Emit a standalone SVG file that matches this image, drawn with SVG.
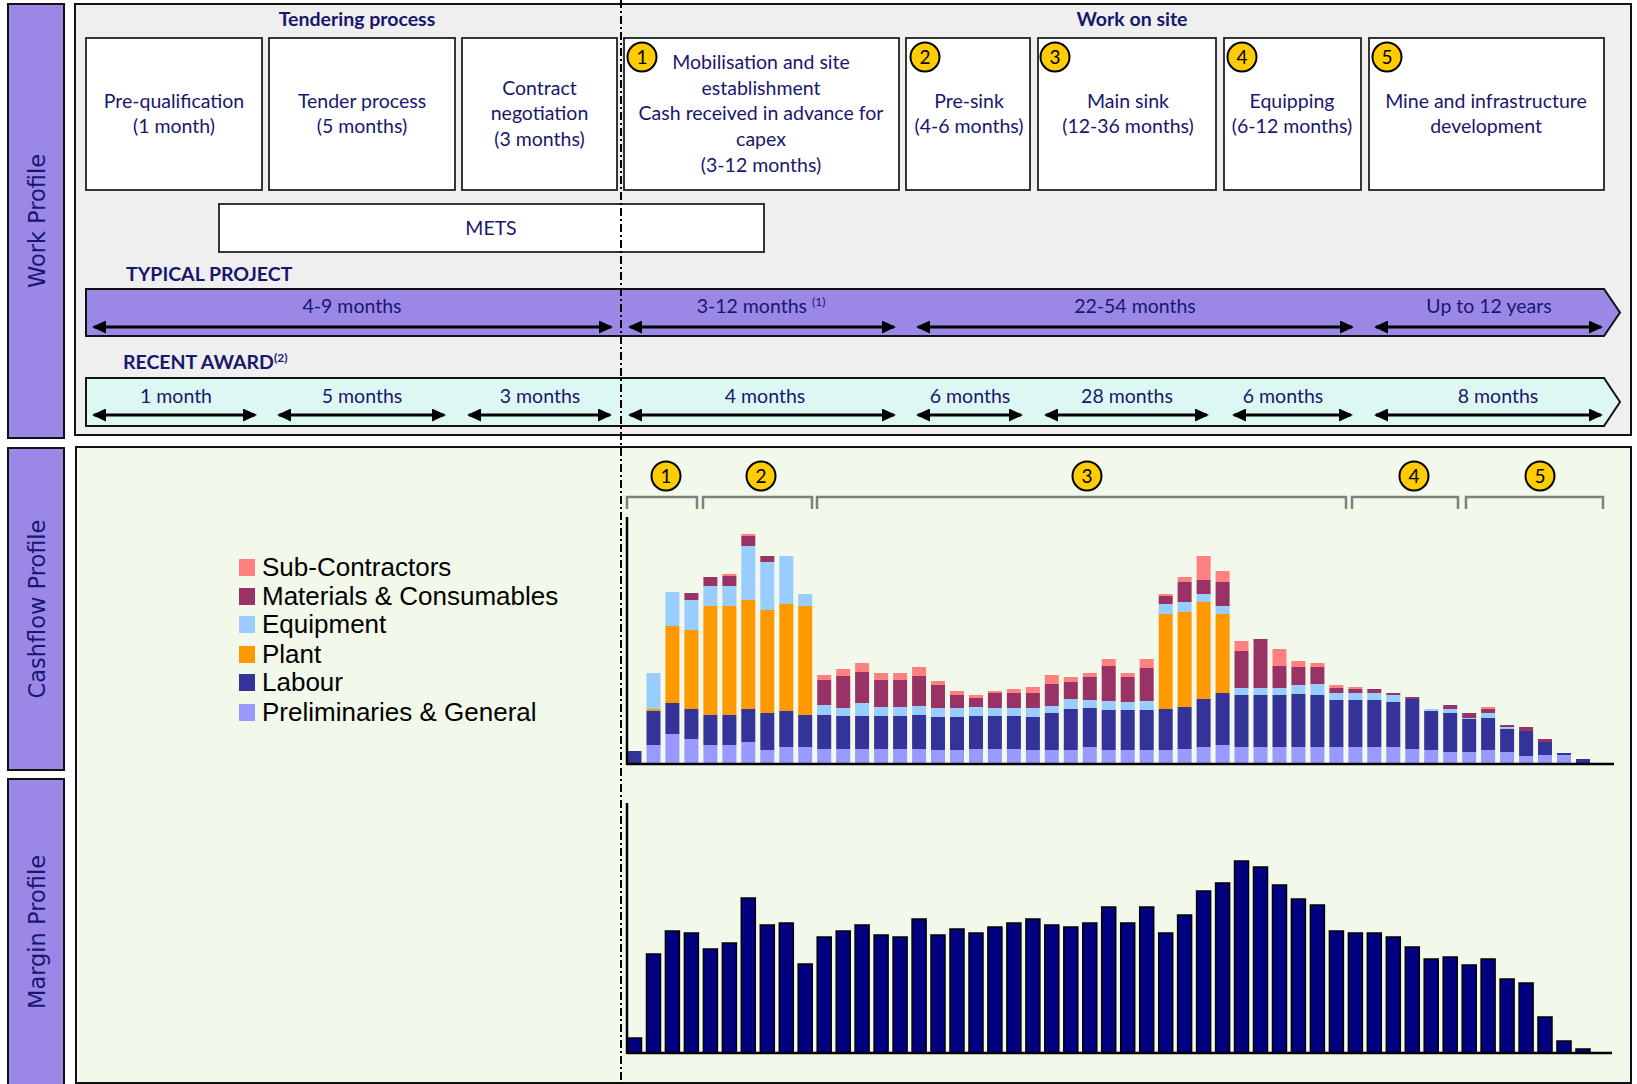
<svg xmlns="http://www.w3.org/2000/svg" width="1637" height="1084" viewBox="0 0 1637 1084">
<style>
.t{font-family:Lato,"Liberation Sans",sans-serif;font-size:19.5px;fill:#17176e;text-anchor:middle}
.bd{font-weight:bold}
.box{fill:#fff;stroke:#222;stroke-width:1.8}
.vl{fill:#9b87e6;stroke:#111;stroke-width:2}
.vt{font-family:"DejaVu Sans",sans-serif;font-size:22.5px;fill:#17176e;text-anchor:middle;dominant-baseline:central}
.nc{fill:#ffcc00;stroke:#000;stroke-width:2}
.nt{font-family:Lato,"Liberation Sans",sans-serif;font-size:19px;fill:#000;text-anchor:middle}
.arr{stroke:#000;stroke-width:3;marker-start:url(#ah);marker-end:url(#ah)}
.br{fill:none;stroke:#808080;stroke-width:2.5}
.lg{font-family:"Liberation Sans",Arial,sans-serif;font-size:26px;fill:#000}
.p{fill:#9999ff}.l{fill:#333399}.pl{fill:#ff9900}.e{fill:#99ccff}.m{fill:#993366}.s{fill:#ff8080}
.mg{fill:#000080;stroke:#000;stroke-width:1.5}
.ax{stroke:#000;stroke-width:2.5}
</style>
<defs>
<marker id="ah" viewBox="0 0 14 13" markerWidth="14" markerHeight="13" refX="12" refY="6.5" orient="auto-start-reverse" markerUnits="userSpaceOnUse"><path d="M0,0 L14,6.5 L0,13 z" fill="#000"/></marker>
</defs>
<rect x="0" y="0" width="1637" height="1084" fill="#fff"/>

<!-- panels -->
<g id="panel-work"><rect x="75" y="4" width="1556" height="431" fill="#efefef" stroke="#111" stroke-width="2"/></g>
<g id="panel-charts"><rect x="76" y="447" width="1555" height="636" fill="#f2f8ea" stroke="#111" stroke-width="2"/></g>

<!-- side labels -->
<g id="label-work"><rect class="vl" x="8" y="4" width="56" height="434"/><text class="vt" transform="translate(37,221) rotate(-90)">Work Profile</text></g>
<g id="label-cashflow"><rect class="vl" x="8" y="448" width="56" height="322"/><text class="vt" transform="translate(37,609) rotate(-90)">Cashflow Profile</text></g>
<g id="label-margin"><rect class="vl" x="8" y="779" width="56" height="312"/><text class="vt" transform="translate(37,932) rotate(-90)">Margin Profile</text></g>

<!-- headings -->
<g id="heading-tendering"><text class="t bd" x="357" y="26">Tendering process</text></g>
<g id="heading-site"><text class="t bd" x="1132" y="26">Work on site</text></g>

<!-- stage boxes -->
<g id="box-prequal"><rect class="box" x="86" y="38" width="176" height="152"/><text class="t" x="174" y="107.5">Pre-qualification</text><text class="t" x="174" y="133.3">(1 month)</text></g>
<g id="box-tender"><rect class="box" x="269" y="38" width="186" height="152"/><text class="t" x="362" y="107.5">Tender process</text><text class="t" x="362" y="133.3">(5 months)</text></g>
<g id="box-contract"><rect class="box" x="462" y="38" width="155" height="152"/><text class="t" x="539.5" y="94.6">Contract</text><text class="t" x="539.5" y="120.4">negotiation</text><text class="t" x="539.5" y="146.2">(3 months)</text></g>
<g id="box-mobilisation"><rect class="box" x="624" y="38" width="275" height="152"/>
<circle class="nc" cx="642" cy="57" r="14.5"/><text class="nt" x="642" y="63.5">1</text>
<text class="t" x="761" y="68.8">Mobilisation and site</text><text class="t" x="761" y="94.6">establishment</text><text class="t" x="761" y="120.4">Cash received in advance for</text><text class="t" x="761" y="146.2">capex</text><text class="t" x="761" y="172">(3-12 months)</text></g>
<g id="box-presink"><rect class="box" x="906" y="38" width="124" height="152"/>
<circle class="nc" cx="925" cy="57" r="14.5"/><text class="nt" x="925" y="63.5">2</text>
<text class="t" x="969" y="107.5">Pre-sink</text><text class="t" x="969" y="133.3">(4-6 months)</text></g>
<g id="box-mainsink"><rect class="box" x="1038" y="38" width="178" height="152"/>
<circle class="nc" cx="1055" cy="57" r="14.5"/><text class="nt" x="1055" y="63.5">3</text>
<text class="t" x="1128" y="107.5">Main sink</text><text class="t" x="1128" y="133.3">(12-36 months)</text></g>
<g id="box-equipping"><rect class="box" x="1224" y="38" width="137" height="152"/>
<circle class="nc" cx="1242" cy="57" r="14.5"/><text class="nt" x="1242" y="63.5">4</text>
<text class="t" x="1292" y="107.5">Equipping</text><text class="t" x="1292" y="133.3">(6-12 months)</text></g>
<g id="box-development"><rect class="box" x="1369" y="38" width="235" height="152"/>
<circle class="nc" cx="1387" cy="57" r="14.5"/><text class="nt" x="1387" y="63.5">5</text>
<text class="t" x="1486" y="107.5">Mine and infrastructure</text><text class="t" x="1486" y="133.3">development</text></g>

<g id="box-mets"><rect class="box" x="219" y="204" width="545" height="48"/><text class="t" x="491" y="234.5">METS</text></g>

<!-- typical project band -->
<g id="band-typical">
<text class="t bd" x="126" y="281" style="text-anchor:start">TYPICAL PROJECT</text>
<polygon points="86,289 1604,289 1620,312.5 1604,336 86,336" fill="#9b87e6" stroke="#111" stroke-width="2"/>
<text class="t" x="352" y="313">4-9 months</text>
<text class="t" x="761" y="313">3-12 months <tspan font-size="12" dy="-7">(1)</tspan></text>
<text class="t" x="1135" y="313">22-54 months</text>
<text class="t" x="1489" y="313">Up to 12 years</text>
</g>

<!-- recent award band -->
<g id="band-recent">
<text class="t bd" x="123" y="369" style="text-anchor:start">RECENT AWARD<tspan font-size="12" dy="-7">(2)</tspan></text>
<polygon points="86,378 1604,378 1620,402 1604,426 86,426" fill="#ddf7f2" stroke="#111" stroke-width="2"/>
<text class="t" x="176" y="403">1 month</text>
<text class="t" x="362" y="403">5 months</text>
<text class="t" x="540" y="403">3 months</text>
<text class="t" x="765" y="403">4 months</text>
<text class="t" x="970" y="403">6 months</text>
<text class="t" x="1127" y="403">28 months</text>
<text class="t" x="1283" y="403">6 months</text>
<text class="t" x="1498" y="403">8 months</text>
</g>

<g id="connectors">
<line class="arr" x1="94" y1="327" x2="611" y2="327"/>
<line class="arr" x1="630" y1="327" x2="894" y2="327"/>
<line class="arr" x1="918" y1="327" x2="1352" y2="327"/>
<line class="arr" x1="1376" y1="327" x2="1601" y2="327"/>
<line class="arr" x1="94" y1="415" x2="255" y2="415"/>
<line class="arr" x1="279" y1="415" x2="444" y2="415"/>
<line class="arr" x1="469" y1="415" x2="610" y2="415"/>
<line class="arr" x1="630" y1="415" x2="894" y2="415"/>
<line class="arr" x1="918" y1="415" x2="1021" y2="415"/>
<line class="arr" x1="1046" y1="415" x2="1207" y2="415"/>
<line class="arr" x1="1234" y1="415" x2="1351" y2="415"/>
<line class="arr" x1="1376" y1="415" x2="1601" y2="415"/>
</g>

<!-- legend -->
<g id="legend">
<rect class="s" x="239" y="559" width="16" height="17"/><text class="lg" x="262" y="576">Sub-Contractors</text>
<rect class="m" x="239" y="588" width="16" height="17"/><text class="lg" x="262" y="605">Materials &amp; Consumables</text>
<rect class="e" x="239" y="616" width="16" height="17"/><text class="lg" x="262" y="633">Equipment</text>
<rect class="pl" x="239" y="646" width="16" height="17"/><text class="lg" x="262" y="663">Plant</text>
<rect class="l" x="239" y="674" width="16" height="17"/><text class="lg" x="262" y="691">Labour</text>
<rect class="p" x="239" y="704" width="16" height="17"/><text class="lg" x="262" y="721">Preliminaries &amp; General</text>
</g>

<!-- phase brackets -->
<g id="phase-brackets">
<path class="br" d="M627,509 V497 H697 V509"/>
<path class="br" d="M703,509 V497 H812 V509"/>
<path class="br" d="M817,509 V497 H1346 V509"/>
<path class="br" d="M1352,509 V497 H1458 V509"/>
<path class="br" d="M1466,509 V497 H1603 V509"/>
<circle class="nc" cx="666" cy="476" r="14.5"/><text class="nt" x="666" y="482.5">1</text>
<circle class="nc" cx="761" cy="476" r="14.5"/><text class="nt" x="761" y="482.5">2</text>
<circle class="nc" cx="1087" cy="476" r="14.5"/><text class="nt" x="1087" y="482.5">3</text>
<circle class="nc" cx="1414" cy="476" r="14.5"/><text class="nt" x="1414" y="482.5">4</text>
<circle class="nc" cx="1540" cy="476" r="14.5"/><text class="nt" x="1540" y="482.5">5</text>
</g>

<!-- cashflow chart -->
<g id="cashflow-chart">
<g transform="translate(627.5,0)"><rect class="l" y="751" width="14" height="12"/></g>
<g transform="translate(646.5,0)"><rect class="p" y="745" width="14" height="18"/><rect class="l" y="711" width="14" height="34"/><rect class="pl" y="709" width="14" height="2"/><rect class="e" y="673" width="14" height="36"/></g>
<g transform="translate(665.4,0)"><rect class="p" y="734" width="14" height="29"/><rect class="l" y="703" width="14" height="31"/><rect class="pl" y="626" width="14" height="77"/><rect class="e" y="592" width="14" height="34"/></g>
<g transform="translate(684.4,0)"><rect class="p" y="739" width="14" height="24"/><rect class="l" y="709" width="14" height="30"/><rect class="pl" y="630" width="14" height="79"/><rect class="e" y="600" width="14" height="30"/><rect class="m" y="593" width="14" height="7"/></g>
<g transform="translate(703.4,0)"><rect class="p" y="745" width="14" height="18"/><rect class="l" y="715" width="14" height="30"/><rect class="pl" y="606" width="14" height="109"/><rect class="e" y="586" width="14" height="20"/><rect class="m" y="577" width="14" height="9"/></g>
<g transform="translate(722.4,0)"><rect class="p" y="745" width="14" height="18"/><rect class="l" y="715" width="14" height="30"/><rect class="pl" y="606" width="14" height="109"/><rect class="e" y="586" width="14" height="20"/><rect class="m" y="576" width="14" height="10"/><rect class="s" y="574" width="14" height="2"/></g>
<g transform="translate(741.3,0)"><rect class="p" y="742" width="14" height="21"/><rect class="l" y="709" width="14" height="33"/><rect class="pl" y="600" width="14" height="109"/><rect class="e" y="546" width="14" height="54"/><rect class="m" y="536" width="14" height="10"/><rect class="s" y="534" width="14" height="2"/></g>
<g transform="translate(760.3,0)"><rect class="p" y="750" width="14" height="13"/><rect class="l" y="713" width="14" height="37"/><rect class="pl" y="610" width="14" height="103"/><rect class="e" y="562" width="14" height="48"/><rect class="m" y="556" width="14" height="6"/></g>
<g transform="translate(779.3,0)"><rect class="p" y="747" width="14" height="16"/><rect class="l" y="711" width="14" height="36"/><rect class="pl" y="604" width="14" height="107"/><rect class="e" y="556" width="14" height="48"/></g>
<g transform="translate(798.2,0)"><rect class="p" y="747" width="14" height="16"/><rect class="l" y="715" width="14" height="32"/><rect class="pl" y="606" width="14" height="109"/><rect class="e" y="594" width="14" height="12"/></g>
<g transform="translate(817.2,0)"><rect class="p" y="749" width="14" height="14"/><rect class="l" y="715" width="14" height="34"/><rect class="e" y="705" width="14" height="10"/><rect class="m" y="680" width="14" height="25"/><rect class="s" y="675" width="14" height="5"/></g>
<g transform="translate(836.2,0)"><rect class="p" y="749" width="14" height="14"/><rect class="l" y="716" width="14" height="33"/><rect class="e" y="708" width="14" height="8"/><rect class="m" y="676" width="14" height="32"/><rect class="s" y="669" width="14" height="7"/></g>
<g transform="translate(855.1,0)"><rect class="p" y="749" width="14" height="14"/><rect class="l" y="716" width="14" height="33"/><rect class="e" y="703" width="14" height="13"/><rect class="m" y="672" width="14" height="31"/><rect class="s" y="663" width="14" height="9"/></g>
<g transform="translate(874.1,0)"><rect class="p" y="749" width="14" height="14"/><rect class="l" y="716" width="14" height="33"/><rect class="e" y="707" width="14" height="9"/><rect class="m" y="680" width="14" height="27"/><rect class="s" y="673" width="14" height="7"/></g>
<g transform="translate(893.1,0)"><rect class="p" y="749" width="14" height="14"/><rect class="l" y="716" width="14" height="33"/><rect class="e" y="707" width="14" height="9"/><rect class="m" y="680" width="14" height="27"/><rect class="s" y="673" width="14" height="7"/></g>
<g transform="translate(912.1,0)"><rect class="p" y="749" width="14" height="14"/><rect class="l" y="715" width="14" height="34"/><rect class="e" y="706" width="14" height="9"/><rect class="m" y="676" width="14" height="30"/><rect class="s" y="667" width="14" height="9"/></g>
<g transform="translate(931,0)"><rect class="p" y="750" width="14" height="13"/><rect class="l" y="717" width="14" height="33"/><rect class="e" y="708" width="14" height="9"/><rect class="m" y="685" width="14" height="23"/><rect class="s" y="681" width="14" height="4"/></g>
<g transform="translate(950,0)"><rect class="p" y="750" width="14" height="13"/><rect class="l" y="717" width="14" height="33"/><rect class="e" y="708" width="14" height="9"/><rect class="m" y="695" width="14" height="13"/><rect class="s" y="691" width="14" height="4"/></g>
<g transform="translate(969,0)"><rect class="p" y="749" width="14" height="14"/><rect class="l" y="716" width="14" height="33"/><rect class="e" y="707" width="14" height="9"/><rect class="m" y="698" width="14" height="9"/><rect class="s" y="695" width="14" height="3"/></g>
<g transform="translate(987.9,0)"><rect class="p" y="749" width="14" height="14"/><rect class="l" y="716" width="14" height="33"/><rect class="e" y="708" width="14" height="8"/><rect class="m" y="693" width="14" height="15"/><rect class="s" y="691" width="14" height="2"/></g>
<g transform="translate(1006.9,0)"><rect class="p" y="749" width="14" height="14"/><rect class="l" y="716" width="14" height="33"/><rect class="e" y="708" width="14" height="8"/><rect class="m" y="693" width="14" height="15"/><rect class="s" y="689" width="14" height="4"/></g>
<g transform="translate(1025.9,0)"><rect class="p" y="750" width="14" height="13"/><rect class="l" y="717" width="14" height="33"/><rect class="e" y="708" width="14" height="9"/><rect class="m" y="693" width="14" height="15"/><rect class="s" y="687" width="14" height="6"/></g>
<g transform="translate(1044.8,0)"><rect class="p" y="750" width="14" height="13"/><rect class="l" y="713" width="14" height="37"/><rect class="e" y="706" width="14" height="7"/><rect class="m" y="684" width="14" height="22"/><rect class="s" y="675" width="14" height="9"/></g>
<g transform="translate(1063.8,0)"><rect class="p" y="750" width="14" height="13"/><rect class="l" y="709" width="14" height="41"/><rect class="e" y="699" width="14" height="10"/><rect class="m" y="682" width="14" height="17"/><rect class="s" y="677" width="14" height="5"/></g>
<g transform="translate(1082.8,0)"><rect class="p" y="747" width="14" height="16"/><rect class="l" y="708" width="14" height="39"/><rect class="e" y="700" width="14" height="8"/><rect class="m" y="677" width="14" height="23"/><rect class="s" y="673" width="14" height="4"/></g>
<g transform="translate(1101.7,0)"><rect class="p" y="750" width="14" height="13"/><rect class="l" y="710" width="14" height="40"/><rect class="e" y="701" width="14" height="9"/><rect class="m" y="666" width="14" height="35"/><rect class="s" y="659" width="14" height="7"/></g>
<g transform="translate(1120.7,0)"><rect class="p" y="750" width="14" height="13"/><rect class="l" y="710" width="14" height="40"/><rect class="e" y="702" width="14" height="8"/><rect class="m" y="677" width="14" height="25"/><rect class="s" y="673" width="14" height="4"/></g>
<g transform="translate(1139.7,0)"><rect class="p" y="750" width="14" height="13"/><rect class="l" y="710" width="14" height="40"/><rect class="e" y="701" width="14" height="9"/><rect class="m" y="668" width="14" height="33"/><rect class="s" y="659" width="14" height="9"/></g>
<g transform="translate(1158.7,0)"><rect class="p" y="750" width="14" height="13"/><rect class="l" y="709" width="14" height="41"/><rect class="pl" y="614" width="14" height="95"/><rect class="e" y="604" width="14" height="10"/><rect class="m" y="596" width="14" height="8"/><rect class="s" y="594" width="14" height="2"/></g>
<g transform="translate(1177.6,0)"><rect class="p" y="749" width="14" height="14"/><rect class="l" y="707" width="14" height="42"/><rect class="pl" y="612" width="14" height="95"/><rect class="e" y="602" width="14" height="10"/><rect class="m" y="582" width="14" height="20"/><rect class="s" y="577" width="14" height="5"/></g>
<g transform="translate(1196.6,0)"><rect class="p" y="747" width="14" height="16"/><rect class="l" y="699" width="14" height="48"/><rect class="pl" y="602" width="14" height="97"/><rect class="e" y="594" width="14" height="8"/><rect class="m" y="580" width="14" height="14"/><rect class="s" y="556" width="14" height="24"/></g>
<g transform="translate(1215.6,0)"><rect class="p" y="745" width="14" height="18"/><rect class="l" y="693" width="14" height="52"/><rect class="pl" y="614" width="14" height="79"/><rect class="e" y="606" width="14" height="8"/><rect class="m" y="582" width="14" height="24"/><rect class="s" y="571" width="14" height="11"/></g>
<g transform="translate(1234.5,0)"><rect class="p" y="747" width="14" height="16"/><rect class="l" y="695" width="14" height="52"/><rect class="e" y="688" width="14" height="7"/><rect class="m" y="651" width="14" height="37"/><rect class="s" y="641" width="14" height="10"/></g>
<g transform="translate(1253.5,0)"><rect class="p" y="747" width="14" height="16"/><rect class="l" y="695" width="14" height="52"/><rect class="e" y="688" width="14" height="7"/><rect class="m" y="639" width="14" height="49"/></g>
<g transform="translate(1272.5,0)"><rect class="p" y="747" width="14" height="16"/><rect class="l" y="695" width="14" height="52"/><rect class="e" y="688" width="14" height="7"/><rect class="m" y="666" width="14" height="22"/><rect class="s" y="649" width="14" height="17"/></g>
<g transform="translate(1291.4,0)"><rect class="p" y="747" width="14" height="16"/><rect class="l" y="694" width="14" height="53"/><rect class="e" y="685" width="14" height="9"/><rect class="m" y="667" width="14" height="18"/><rect class="s" y="661" width="14" height="6"/></g>
<g transform="translate(1310.4,0)"><rect class="p" y="747" width="14" height="16"/><rect class="l" y="695" width="14" height="52"/><rect class="e" y="684" width="14" height="11"/><rect class="m" y="667" width="14" height="17"/><rect class="s" y="663" width="14" height="4"/></g>
<g transform="translate(1329.4,0)"><rect class="p" y="747" width="14" height="16"/><rect class="l" y="700" width="14" height="47"/><rect class="e" y="693" width="14" height="7"/><rect class="m" y="688" width="14" height="5"/><rect class="s" y="685" width="14" height="3"/></g>
<g transform="translate(1348.4,0)"><rect class="p" y="747" width="14" height="16"/><rect class="l" y="700" width="14" height="47"/><rect class="e" y="693" width="14" height="7"/><rect class="m" y="689" width="14" height="4"/><rect class="s" y="687" width="14" height="2"/></g>
<g transform="translate(1367.3,0)"><rect class="p" y="747" width="14" height="16"/><rect class="l" y="700" width="14" height="47"/><rect class="e" y="693" width="14" height="7"/><rect class="m" y="689" width="14" height="4"/></g>
<g transform="translate(1386.3,0)"><rect class="p" y="747" width="14" height="16"/><rect class="l" y="702" width="14" height="45"/><rect class="e" y="695" width="14" height="7"/><rect class="m" y="693" width="14" height="2"/></g>
<g transform="translate(1405.3,0)"><rect class="p" y="749" width="14" height="14"/><rect class="l" y="699" width="14" height="50"/><rect class="m" y="697" width="14" height="2"/></g>
<g transform="translate(1424.2,0)"><rect class="p" y="750" width="14" height="13"/><rect class="l" y="711" width="14" height="39"/><rect class="e" y="709" width="14" height="2"/></g>
<g transform="translate(1443.2,0)"><rect class="p" y="752" width="14" height="11"/><rect class="l" y="713" width="14" height="39"/><rect class="e" y="709" width="14" height="4"/><rect class="m" y="705" width="14" height="4"/></g>
<g transform="translate(1462.2,0)"><rect class="p" y="752" width="14" height="11"/><rect class="l" y="719" width="14" height="33"/><rect class="e" y="718" width="14" height="1"/><rect class="m" y="713" width="14" height="5"/></g>
<g transform="translate(1481.1,0)"><rect class="p" y="750" width="14" height="13"/><rect class="l" y="718" width="14" height="32"/><rect class="e" y="713" width="14" height="5"/><rect class="m" y="709" width="14" height="4"/><rect class="s" y="707" width="14" height="2"/></g>
<g transform="translate(1500.1,0)"><rect class="p" y="752" width="14" height="11"/><rect class="l" y="729" width="14" height="23"/><rect class="e" y="727" width="14" height="2"/><rect class="m" y="725" width="14" height="2"/></g>
<g transform="translate(1519.1,0)"><rect class="p" y="756" width="14" height="7"/><rect class="l" y="731" width="14" height="25"/><rect class="m" y="727" width="14" height="4"/></g>
<g transform="translate(1538,0)"><rect class="p" y="755" width="14" height="8"/><rect class="l" y="742" width="14" height="13"/><rect class="m" y="739" width="14" height="3"/></g>
<g transform="translate(1557,0)"><rect class="p" y="755" width="14" height="8"/><rect class="l" y="753" width="14" height="2"/></g>
<g transform="translate(1576,0)"><rect class="l" y="759" width="14" height="4"/></g>
<line class="ax" x1="627" y1="517" x2="627" y2="765"/>
<line class="ax" x1="627" y1="764" x2="1614" y2="764"/>
</g>

<!-- margin chart -->
<g id="margin-chart">
<rect class="mg" x="627.5" y="1038" width="14" height="15"/>
<rect class="mg" x="646.5" y="954" width="14" height="99"/>
<rect class="mg" x="665.4" y="931" width="14" height="122"/>
<rect class="mg" x="684.4" y="933" width="14" height="120"/>
<rect class="mg" x="703.4" y="949" width="14" height="104"/>
<rect class="mg" x="722.4" y="943" width="14" height="110"/>
<rect class="mg" x="741.3" y="898" width="14" height="155"/>
<rect class="mg" x="760.3" y="925" width="14" height="128"/>
<rect class="mg" x="779.3" y="923" width="14" height="130"/>
<rect class="mg" x="798.2" y="964" width="14" height="89"/>
<rect class="mg" x="817.2" y="937" width="14" height="116"/>
<rect class="mg" x="836.2" y="931" width="14" height="122"/>
<rect class="mg" x="855.1" y="925" width="14" height="128"/>
<rect class="mg" x="874.1" y="935" width="14" height="118"/>
<rect class="mg" x="893.1" y="937" width="14" height="116"/>
<rect class="mg" x="912.1" y="919" width="14" height="134"/>
<rect class="mg" x="931" y="935" width="14" height="118"/>
<rect class="mg" x="950" y="929" width="14" height="124"/>
<rect class="mg" x="969" y="933" width="14" height="120"/>
<rect class="mg" x="987.9" y="927" width="14" height="126"/>
<rect class="mg" x="1006.9" y="923" width="14" height="130"/>
<rect class="mg" x="1025.9" y="919" width="14" height="134"/>
<rect class="mg" x="1044.8" y="925" width="14" height="128"/>
<rect class="mg" x="1063.8" y="927" width="14" height="126"/>
<rect class="mg" x="1082.8" y="923" width="14" height="130"/>
<rect class="mg" x="1101.7" y="907" width="14" height="146"/>
<rect class="mg" x="1120.7" y="923" width="14" height="130"/>
<rect class="mg" x="1139.7" y="907" width="14" height="146"/>
<rect class="mg" x="1158.7" y="933" width="14" height="120"/>
<rect class="mg" x="1177.6" y="915" width="14" height="138"/>
<rect class="mg" x="1196.6" y="891" width="14" height="162"/>
<rect class="mg" x="1215.6" y="883" width="14" height="170"/>
<rect class="mg" x="1234.5" y="861" width="14" height="192"/>
<rect class="mg" x="1253.5" y="867" width="14" height="186"/>
<rect class="mg" x="1272.5" y="885" width="14" height="168"/>
<rect class="mg" x="1291.4" y="899" width="14" height="154"/>
<rect class="mg" x="1310.4" y="905" width="14" height="148"/>
<rect class="mg" x="1329.4" y="931" width="14" height="122"/>
<rect class="mg" x="1348.4" y="933" width="14" height="120"/>
<rect class="mg" x="1367.3" y="933" width="14" height="120"/>
<rect class="mg" x="1386.3" y="937" width="14" height="116"/>
<rect class="mg" x="1405.3" y="947" width="14" height="106"/>
<rect class="mg" x="1424.2" y="959" width="14" height="94"/>
<rect class="mg" x="1443.2" y="957" width="14" height="96"/>
<rect class="mg" x="1462.2" y="965" width="14" height="88"/>
<rect class="mg" x="1481.1" y="959" width="14" height="94"/>
<rect class="mg" x="1500.1" y="979" width="14" height="74"/>
<rect class="mg" x="1519.1" y="983" width="14" height="70"/>
<rect class="mg" x="1538" y="1017" width="14" height="36"/>
<rect class="mg" x="1557" y="1041" width="14" height="12"/>
<rect class="mg" x="1576" y="1049" width="14" height="4"/>
<line class="ax" x1="627" y1="803" x2="627" y2="1054"/>
<line class="ax" x1="627" y1="1053" x2="1612" y2="1053"/>
</g>

<!-- dash-dot divider -->
<g id="divider"><line x1="621" y1="0" x2="621" y2="1084" stroke="#000" stroke-width="2" stroke-dasharray="8 3 2 3"/></g>
</svg>
